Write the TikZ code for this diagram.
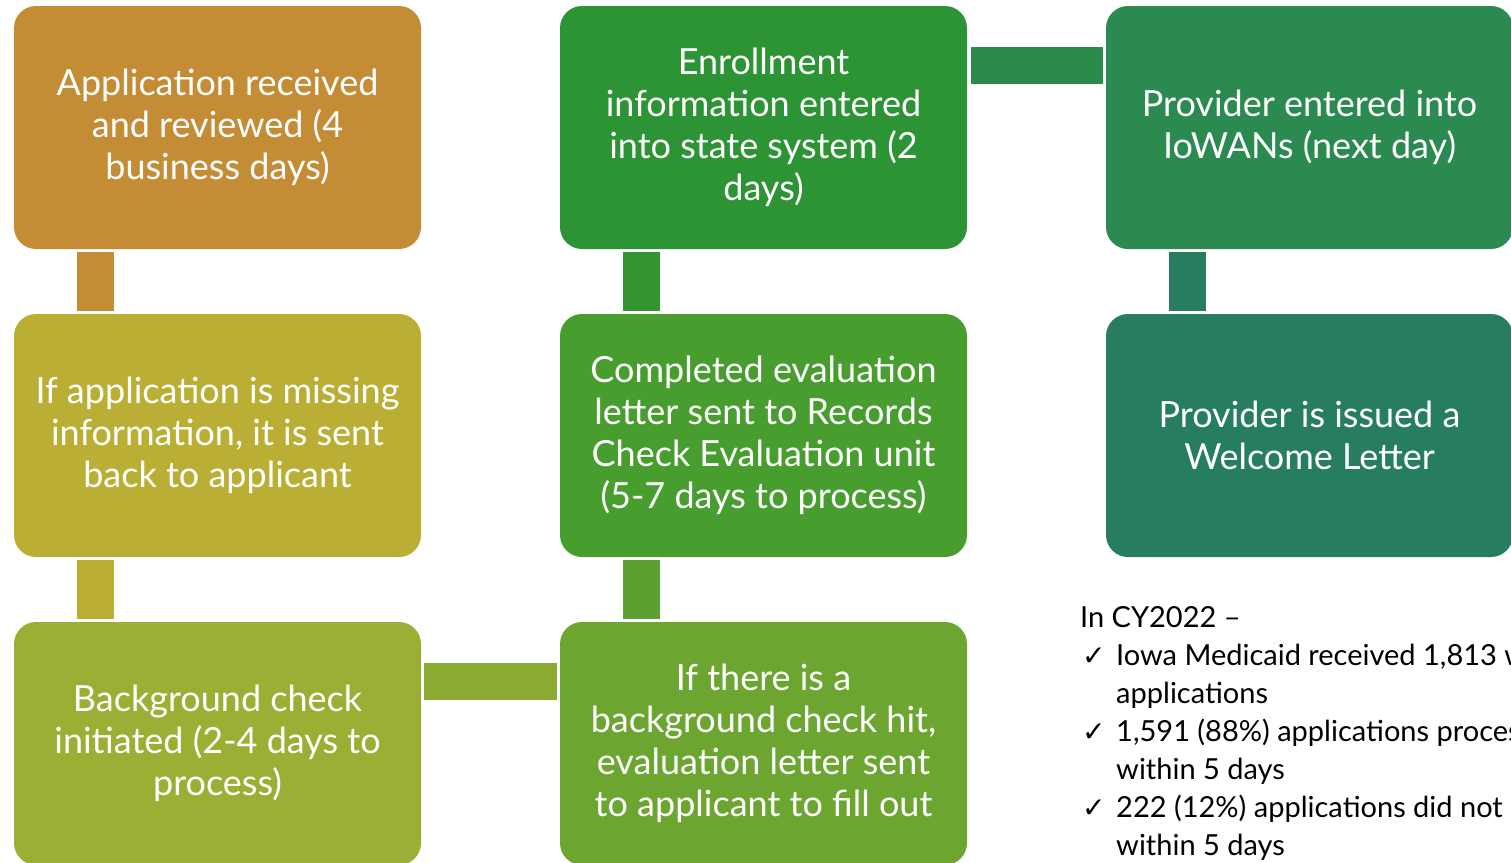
\documentclass[tikz,border=0pt]{standalone}
\usepackage{fontspec}
\setmainfont{Lato}
\newfontfamily\symfont{DejaVu Sans}
\usetikzlibrary{calc}
\definecolor{cA}{HTML}{C48C35}
\definecolor{cB}{HTML}{BAAF34}
\definecolor{cC}{HTML}{99B034}
\definecolor{cCD}{HTML}{8BAA31}
\definecolor{cD}{HTML}{6CA631}
\definecolor{cDE}{HTML}{5CA12F}
\definecolor{cE}{HTML}{479E2F}
\definecolor{cEF}{HTML}{33952F}
\definecolor{cF}{HTML}{2C9434}
\definecolor{cFG}{HTML}{2A8A4C}
\definecolor{cG}{HTML}{2A8A4F}
\definecolor{cH}{HTML}{277E5F}
\tikzset{
  stepbox/.style={rectangle, rounded corners=22pt, minimum width=407pt, minimum height=243pt,
    inner sep=0pt, text=white, align=center, font=\fontsize{36}{42}\selectfont},
  barline/.style={line width=37pt}
}
\newcommand{\chk}{\hspace*{2pt}\makebox[34pt][l]{\symfont\fontsize{28}{38}\selectfont ✓}}
\begin{document}
\begin{tikzpicture}[x=1pt,y=-1pt]
\useasboundingbox (0,0) rectangle (1511,862);
\clip (0,0) rectangle (1511,862);
\node[stepbox, fill=cA] (a) at (217.5,127.5) {Application received\\and reviewed (4\\business days)};
\node[stepbox, fill=cB] (b) at (217.5,435.5) {If application is missing\\information, it is sent\\back to applicant};
\node[stepbox, fill=cC] (c) at (217.5,743.5) {Background check\\initiated (2-4 days to\\process)};
\node[stepbox, fill=cD] (d) at (763.5,743.5) {If there is a\\background check hit,\\evaluation letter sent\\to applicant to fill out};
\node[stepbox, fill=cE] (e) at (763.5,435.5) {Completed evaluation\\letter sent to Records\\Check Evaluation unit\\(5-7 days to process)};
\node[stepbox, fill=cF] (f) at (763.5,127.5) {Enrollment\\information entered\\into state system (2\\days)};
\node[stepbox, fill=cG] (g) at (1309.5,127.5) {Provider entered into\\IoWANs (next day)};
\node[stepbox, fill=cH] (h) at (1309.5,435.5) {Provider is issued a\\Welcome Letter};
% connectors
\draw[barline, draw=cA] ($(a.south west)+(81.5,3)$) -- ($(b.north west)+(81.5,-3)$);
\draw[barline, draw=cB] ($(b.south west)+(81.5,3)$) -- ($(c.north west)+(81.5,-3)$);
\draw[barline, draw=cCD] ($(c.east)+(3,-62.5)$) -- ($(d.west)+(-3,-62.5)$);
\draw[barline, draw=cDE] ($(d.north west)+(81.5,-3)$) -- ($(e.south west)+(81.5,3)$);
\draw[barline, draw=cEF] ($(e.north west)+(81.5,-3)$) -- ($(f.south west)+(81.5,3)$);
\draw[barline, draw=cFG] ($(f.east)+(4,-62.5)$) -- ($(g.west)+(-3,-62.5)$);
\draw[barline, draw=cH] ($(g.south west)+(81.5,3)$) -- ($(h.north west)+(81.5,-3)$);
% statistics
\node[anchor=north west, inner sep=0pt, align=left, font=\fontsize{29}{38}\selectfont] (stats) at (1080,606)
{In CY2022 –\\
\chk Iowa Medicaid received 1,813 waiver\\
\hspace*{36pt}applications\\
\chk 1,591 (88\%) applications processed\\
\hspace*{36pt}within 5 days\\
\chk 222 (12\%) applications did not meet\\
\hspace*{36pt}within 5 days};
\end{tikzpicture}
\end{document}
